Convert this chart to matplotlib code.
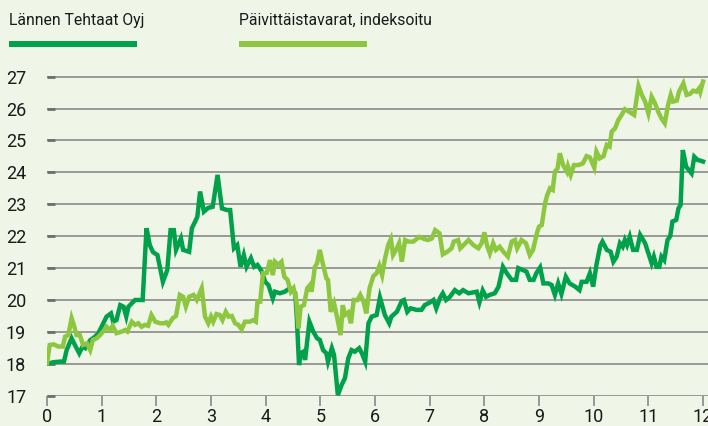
import matplotlib.pyplot as plt
from matplotlib.lines import Line2D

# Lännen Tehtaat Oyj (months 0..12, price)
lt_x = [0.00, 0.12, 0.24, 0.31, 0.36, 0.45, 0.51, 0.59, 0.65, 0.70, 0.79, 0.88, 0.94,
        1.03, 1.09, 1.17, 1.21, 1.27, 1.34, 1.40, 1.45, 1.49, 1.61, 1.75, 1.82, 1.88,
        1.94, 2.02, 2.12, 2.20, 2.26, 2.32, 2.36, 2.45, 2.49, 2.60, 2.65, 2.71, 2.75,
        2.80, 2.87, 2.95, 3.03, 3.12, 3.20, 3.29, 3.35, 3.42, 3.48, 3.54, 3.60, 3.65,
        3.73, 3.79, 3.85, 3.93, 3.99, 4.05, 4.13, 4.17, 4.26, 4.35, 4.44, 4.54, 4.57,
        4.61, 4.64, 4.69, 4.72, 4.80, 4.87, 4.94, 4.99, 5.05, 5.11, 5.14, 5.21, 5.25,
        5.32, 5.39, 5.45, 5.51, 5.57, 5.63, 5.71, 5.76, 5.82, 5.88, 5.94, 6.03, 6.09,
        6.18, 6.26, 6.30, 6.40, 6.49, 6.53, 6.59, 6.65, 6.76, 6.85, 6.91, 7.01, 7.07,
        7.12, 7.19, 7.24, 7.30, 7.37, 7.46, 7.54, 7.61, 7.71, 7.80, 7.86, 7.91, 7.97,
        8.03, 8.10, 8.19, 8.26, 8.34, 8.41, 8.50, 8.58, 8.62, 8.70, 8.77, 8.83, 8.90,
        8.95, 9.02, 9.08, 9.17, 9.23, 9.29, 9.35, 9.41, 9.49, 9.56, 9.66, 9.74, 9.78,
        9.87, 9.93, 9.99, 10.05, 10.12, 10.16, 10.24, 10.31, 10.36, 10.42, 10.48, 10.53,
        10.57, 10.61, 10.66, 10.72, 10.79, 10.85, 10.94, 11.00, 11.06, 11.10, 11.15,
        11.20, 11.24, 11.29, 11.35, 11.40, 11.44, 11.51, 11.55, 11.59, 11.63, 11.69,
        11.79, 11.84, 11.90, 11.95, 12.00]
lt_y = [18.00, 18.05, 18.07, 18.07, 18.43, 18.80, 18.59, 18.33, 18.54, 18.49, 18.74, 18.85, 18.96,
        19.27, 19.48, 19.58, 19.32, 19.37, 19.84, 19.79, 19.48, 19.79, 20.00, 20.00, 22.25, 21.72,
        21.50, 21.41, 20.57, 20.94, 22.19, 22.19, 21.57, 21.93, 21.57, 21.51, 22.25, 22.46, 22.61,
        23.40, 22.77, 22.89, 22.92, 23.92, 22.87, 22.82, 22.82, 21.62, 21.72, 21.04, 21.41, 21.04,
        21.31, 21.04, 21.10, 20.89, 20.57, 20.47, 20.05, 20.26, 20.21, 20.26, 20.37, 20.21, 19.43,
        17.96, 18.33, 18.38, 18.12, 19.32, 19.01, 18.80, 18.75, 18.43, 18.33, 18.07, 18.49, 18.28,
        17.02, 17.34, 17.55, 18.17, 18.43, 18.38, 18.49, 18.33, 18.07, 19.27, 19.48, 19.53, 20.08,
        19.53, 19.27, 19.48, 19.63, 19.97, 20.00, 19.63, 19.74, 19.69, 19.69, 19.84, 19.93, 20.00,
        19.74, 20.07, 20.21, 20.00, 20.10, 20.31, 20.21, 20.31, 20.21, 20.24, 20.26, 19.93, 20.30,
        20.10, 20.16, 20.21, 20.42, 21.04, 20.84, 20.63, 20.63, 21.00, 20.94, 20.89, 20.63, 20.63,
        20.84, 21.02, 20.52, 20.52, 20.47, 20.16, 20.52, 20.19, 20.73, 20.52, 20.42, 20.31, 20.57,
        20.57, 20.84, 20.42, 21.10, 21.70, 21.83, 21.57, 21.51, 21.20, 21.36, 21.78, 21.67,
        21.88, 21.72, 21.98, 21.57, 21.57, 22.04, 21.78, 21.46, 21.15, 21.36, 21.04,
        21.04, 21.36, 21.25, 21.88, 22.00, 22.46, 22.51, 22.87, 22.98, 24.70, 24.18,
        23.97, 24.49, 24.39, 24.37, 24.34]

# Päivittäistavarat, indeksoitu
pt_x = [0.00, 0.05, 0.12, 0.21, 0.29, 0.33, 0.39, 0.45, 0.50, 0.54, 0.60, 0.66, 0.73, 0.79,
        0.84, 0.91, 0.97, 1.05, 1.09, 1.15, 1.20, 1.27, 1.37, 1.43, 1.47, 1.55, 1.61, 1.67,
        1.73, 1.79, 1.85, 1.91, 1.98, 2.07, 2.14, 2.18, 2.22, 2.30, 2.36, 2.43, 2.49, 2.54,
        2.60, 2.68, 2.74, 2.83, 2.89, 2.95, 3.00, 3.04, 3.10, 3.16, 3.21, 3.27, 3.32, 3.38,
        3.44, 3.50, 3.56, 3.62, 3.71, 3.77, 3.82, 3.85, 3.90, 3.95, 4.02, 4.08, 4.13, 4.17,
        4.23, 4.29, 4.34, 4.40, 4.46, 4.51, 4.56, 4.60, 4.64, 4.70, 4.76, 4.81, 4.84, 4.90,
        4.94, 4.99, 5.05, 5.11, 5.14, 5.19, 5.25, 5.31, 5.37, 5.41, 5.45, 5.51, 5.56, 5.61,
        5.68, 5.73, 5.79, 5.84, 5.90, 5.97, 6.03, 6.08, 6.13, 6.18, 6.24, 6.29, 6.33, 6.40,
        6.44, 6.49, 6.55, 6.61, 6.70, 6.81, 6.90, 6.97, 7.04, 7.10, 7.18, 7.24, 7.32, 7.40,
        7.44, 7.52, 7.56, 7.62, 7.71, 7.80, 7.89, 7.95, 8.00, 8.05, 8.10, 8.16, 8.21, 8.28,
        8.35, 8.43, 8.50, 8.56, 8.60, 8.68, 8.76, 8.83, 8.89, 8.96, 9.00, 9.05, 9.11, 9.15,
        9.20, 9.25, 9.29, 9.34, 9.38, 9.44, 9.51, 9.53, 9.58, 9.64, 9.72, 9.80, 9.87, 9.93,
        10.01, 10.05, 10.11, 10.18, 10.24, 10.29, 10.33, 10.39, 10.45, 10.51, 10.57, 10.65,
        10.74, 10.82, 10.88, 10.94, 11.00, 11.06, 11.12, 11.18, 11.24, 11.30, 11.36, 11.41,
        11.45, 11.52, 11.56, 11.64, 11.70, 11.76, 11.82, 11.88, 11.93, 11.95, 12.00]
pt_y = [18.02, 18.59, 18.61, 18.54, 18.54, 18.85, 18.90, 19.43, 19.16, 18.90, 18.90, 18.59, 18.64, 18.43,
        18.75, 18.80, 18.90, 19.06, 19.16, 19.06, 19.19, 18.96, 19.01, 19.06, 19.01, 19.32, 19.22, 19.27,
        19.16, 19.22, 19.19, 19.53, 19.32, 19.27, 19.27, 19.30, 19.22, 19.43, 19.50, 20.16, 20.10, 19.79,
        20.10, 20.16, 20.00, 20.37, 19.48, 19.27, 19.48, 19.32, 19.56, 19.53, 19.37, 19.63, 19.48, 19.50,
        19.27, 19.22, 19.08, 19.32, 19.32, 19.37, 19.32, 19.95, 19.95, 20.84, 20.85, 21.25, 20.78, 21.20,
        21.10, 21.20, 20.73, 20.63, 20.26, 20.37, 20.00, 19.11, 19.79, 19.84, 20.37, 20.47, 20.26, 21.04,
        21.15, 21.57, 21.10, 20.68, 20.63, 19.63, 19.90, 19.43, 18.90, 19.84, 19.53, 19.61, 19.27, 20.00,
        20.00, 20.16, 19.95, 19.58, 20.37, 20.75, 20.84, 21.07, 20.78, 21.28, 21.72, 21.91, 21.41, 21.62,
        21.78, 21.20, 21.88, 21.83, 21.83, 21.98, 21.91, 21.88, 21.93, 22.19, 22.09, 21.43, 21.51, 21.62,
        21.83, 21.88, 21.62, 21.72, 21.88, 21.72, 21.62, 21.78, 22.12, 21.70, 21.46, 21.78, 21.57, 21.67,
        21.51, 21.36, 21.83, 21.88, 21.62, 21.88, 21.78, 21.41, 21.57, 22.09, 22.30, 22.35, 23.03, 23.29,
        23.50, 23.45, 24.02, 24.13, 24.60, 24.23, 24.02, 24.18, 23.92, 24.23, 24.23, 24.28, 24.51, 24.47,
        24.15, 24.65, 24.44, 24.51, 24.86, 24.81, 25.28, 25.38, 25.64, 25.80, 25.98, 25.90,
        25.80, 26.71, 26.43, 26.22, 25.85, 26.37, 26.17, 25.90, 25.69, 25.54, 26.11, 26.43,
        26.22, 26.25, 26.53, 26.79, 26.43, 26.46, 26.56, 26.53, 26.64, 26.53, 26.85]

x_ticks = list(range(0, 13))
y_ticks = list(range(17, 28))
labels = ['Lännen Tehtaat Oyj', 'Päivittäistavarat, indeksoitu']

dark = '#00A14B'
light = '#8DC63F'
bg = '#EFF5E7'
grid = '#8A8A8A'

plt.rcParams['font.family'] = ['Roboto', 'DejaVu Sans']

fig = plt.figure(figsize=(7.08, 4.26), dpi=100, facecolor=bg)
ax = fig.add_axes([47 / 708, 30.3 / 426, 661 / 708, 325.4 / 426])
ax.set_facecolor(bg)

ax.plot(lt_x, lt_y, color=dark, lw=3.2, solid_joinstyle='miter', zorder=3)
ax.plot(pt_x, pt_y, color=light, lw=3.2, solid_joinstyle='miter', zorder=4)

ax.set_xlim(0, 661 / 54.67)
ax.set_ylim(17, 27.2)
ax.set_xticks(x_ticks)
ax.set_yticks(y_ticks)
for v in y_ticks:
    ax.axhline(v, color=grid, lw=1.2, zorder=1)

for s in ax.spines.values():
    s.set_visible(False)

ax.tick_params(axis='x', length=7, width=1.2, color=grid, pad=1.5, labelsize=13, labelcolor='#1a1a1a')
ax.tick_params(axis='y', direction='in', length=6, width=2, color='#6E6E6E', pad=15,
               labelsize=13, labelcolor='#1a1a1a')

# legend drawn by hand at the top
fig.text(9 / 708, 1 - 20 / 426, labels[0], fontsize=11.3, color='#1a1a1a', va='center')
fig.text(239 / 708, 1 - 20 / 426, labels[1], fontsize=11.3, color='#1a1a1a', va='center')
fig.add_artist(Line2D([9 / 708, 137 / 708], [1 - 44 / 426] * 2, color=dark, lw=4.3,
                      solid_capstyle='butt'))
fig.add_artist(Line2D([239 / 708, 367 / 708], [1 - 44 / 426] * 2, color=light, lw=4.3,
                      solid_capstyle='butt'))

fig.savefig('out.png', dpi=100, facecolor=bg)
